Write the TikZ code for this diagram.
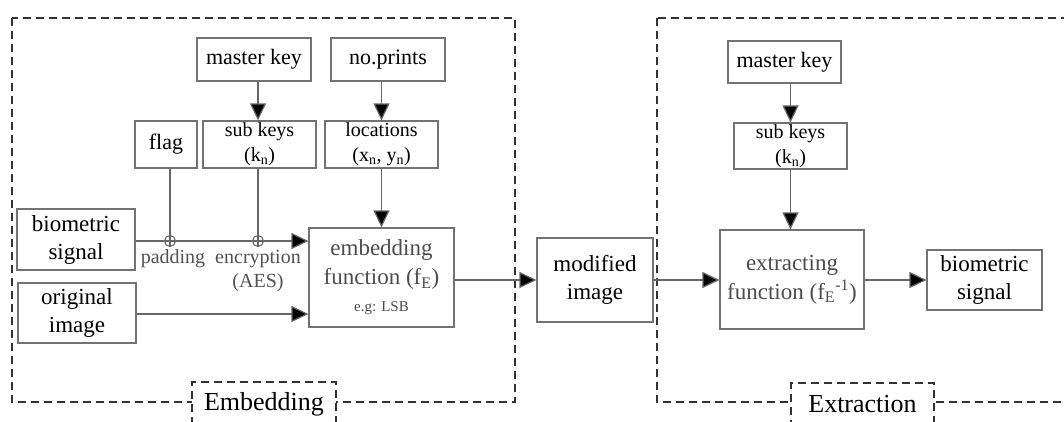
\documentclass[tikz,border=0pt]{standalone}
\usepackage{fontspec}
\setmainfont{Liberation Serif}
\usetikzlibrary{arrows.meta}
\tikzset{
  box/.style={draw=black!55, line width=1.2pt, rectangle, inner sep=0pt, align=center, text=black,
              font=\fontsize{22}{28}\selectfont},
  smallbox/.style={box, font=\fontsize{20}{25}\selectfont},
  graytext/.style={text=black!70},
  conn/.style={draw=black!60, line width=1.2pt},
  arr/.style={conn, -{Triangle[length=17pt,width=16pt,fill=black]}},
  frame/.style={draw=black!80, line width=1.3pt, dash pattern=on 8pt off 5pt},
  xor/.style={circle, draw=black!60, line width=1.1pt, minimum size=11pt, inner sep=0pt},
  lbl/.style={text=black!68, font=\fontsize{20}{24}\selectfont, inner sep=0pt},
  flabel/.style={frame, fill=white, inner sep=0pt, font=\fontsize{26}{30}\selectfont, text=black}
}
\begin{document}
\begin{tikzpicture}[x=1pt,y=-1pt]
\useasboundingbox (0,0) rectangle (1064,421);
\clip (0,0) rectangle (1064,421);
% frames
\draw[frame] (12,18) rectangle (515,402);
\draw[frame] (657,18) rectangle (1090,402);
\node[flabel, minimum width=144pt, minimum height=80pt] (embl) at (264,422) {};
\node[inner sep=0pt, font=\fontsize{26}{30}\selectfont] (embt) at (264,404) {Embedding};
\node[flabel, minimum width=143pt, minimum height=80pt] (extl) at (862.5,423) {};
\node[inner sep=0pt, font=\fontsize{26}{30}\selectfont] (extt) at (862.5,404) {Extraction};
% embedding nodes
\node[box, minimum width=114pt, minimum height=43pt] (mk1) at (254,59.5) {master key};
\node[box, minimum width=114pt, minimum height=43pt] (np) at (388,59.5) {no.prints};
\node[box, minimum width=62pt, minimum height=47pt] (flag) at (166,144.5) {flag};
\node[smallbox, minimum width=113pt, minimum height=47pt] (sk1) at (259.5,144.5) {sub keys\\(k\textsubscript{n})};
\node[smallbox, minimum width=113pt, minimum height=47pt] (loc) at (381.5,144.5) {locations\\(x\textsubscript{n}, y\textsubscript{n})};
\node[box, font=\fontsize{23}{28}\selectfont, minimum width=118pt, minimum height=61pt] (bio) at (76,239.5) {biometric\\signal};
\node[box, font=\fontsize{23}{28}\selectfont, minimum width=118pt, minimum height=60pt] (orig) at (77,313) {original\\image};
\node[box, graytext, font=\fontsize{23}{29}\selectfont, minimum width=145pt, minimum height=99pt] (emb) at (381.5,277.5)
  {embedding\\function (f\textsubscript{E})\\[-2pt]{\fontsize{15}{18}\selectfont e.g: LSB}};
\node[box, font=\fontsize{23}{28}\selectfont, minimum width=116pt, minimum height=84pt] (mod) at (595,280) {modified\\image};
% extraction nodes
\node[box, minimum width=113pt, minimum height=42pt] (mk2) at (784.5,62) {master key};
\node[smallbox, minimum width=113pt, minimum height=46pt] (sk2) at (790.5,146) {sub keys\\(k\textsubscript{n})};
\node[box, graytext, font=\fontsize{23}{29}\selectfont, minimum width=144pt, minimum height=99pt] (ext) at (792,279.5)
  {extracting\\function (f\textsubscript{E}\textsuperscript{-1})};
\node[box, font=\fontsize{23}{28}\selectfont, minimum width=115pt, minimum height=60pt] (bio2) at (984.5,280) {biometric\\signal};
% xor points
\node[xor] (c1) at (170,241) {};
\node[xor] (c2) at (258,241) {};
\node[lbl] (pad) at (173,259) {padding};
\node[lbl] (enc) at (258,259) {encryption};
\node[lbl] (aes) at (258,283) {(AES)};
% connectors
\draw[arr] (mk1.south -| sk1.north) ++(-1.5,0) coordinate (a1) -- (a1 |- sk1.north);
\draw[arr] (loc.north |- np.south) -- (loc.north);
\draw[conn] (c1 |- flag.south) -- (c1.south);
\draw[conn] (c2 |- sk1.south) -- (c2.south);
\draw[arr] (bio.east |- c1) -- (emb.west |- c1);
\draw[arr] (orig.east |- 0,314) coordinate (o1) -- (emb.west |- o1);
\draw[arr] (loc.south) -- (emb.north);
\draw[arr] (emb.east |- mod.west) -- (mod.west);
\draw[arr] (mod.east) -- (ext.west |- mod.east);
\draw[arr] (mk2.south -| sk2.north) -- (sk2.north);
\draw[arr] (sk2.south) -- (ext.north -| sk2.south);
\draw[arr] (ext.east |- bio2.west) -- (bio2.west);
\end{tikzpicture}
\end{document}
